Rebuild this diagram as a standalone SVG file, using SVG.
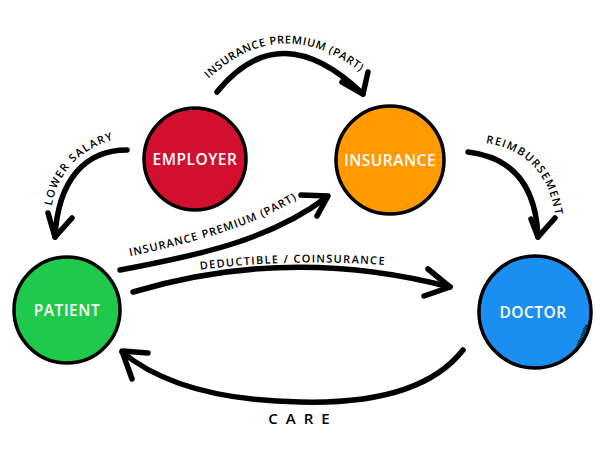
<svg xmlns="http://www.w3.org/2000/svg" width="600" height="455" viewBox="0 0 600 455">
<style>
.node{stroke:#000;stroke-width:3.5}
.nl{font-family:"Open Sans",sans-serif;font-weight:600;font-size:15.5px;fill:#fff;text-anchor:middle;letter-spacing:0.5px}
.c{fill:none;stroke:#000;stroke-width:5.5;stroke-linecap:round;stroke-linejoin:round}
.lb{font-family:"Open Sans",sans-serif;font-weight:600;font-size:11px;fill:#000;letter-spacing:1.3px}
</style>
<defs>
<path id="tp1" d="M194,94 Q280,-4 380,88"/>
<path id="tp2" d="M50,222 C52,170 85,143 130,136"/>
<path id="tp3" d="M474,142 Q550,146 557,228"/>
<path id="tp4" d="M122,258 C198,242 262,224 304,194"/>
<path id="tp5" d="M190,271 Q292,257 396,266"/>
</defs>
<rect width="600" height="455" fill="#fff"/>
<g id="connectors">
<g id="e1">
<path class="c" d="M217,92 Q280,14 363,94"/>
<path class="c" d="M342,82 L363,94 L368,72"/>
<text class="lb" style="letter-spacing:0.6px"><textPath href="#tp1" startOffset="49%" text-anchor="middle">INSURANCE PREMIUM (PART)</textPath></text>
</g>
<g id="e2">
<path class="c" d="M127,150 C85,150 58,180 55,237"/>
<path class="c" d="M48,213 L55,237 L72,218"/>
<text class="lb"><textPath href="#tp2" startOffset="50%" text-anchor="middle">LOWER SALARY</textPath></text>
</g>
<g id="e3">
<path class="c" d="M468,152 Q535,160 538,237"/>
<path class="c" d="M531,219 L538,237 L555,218"/>
<text class="lb"><textPath href="#tp3" startOffset="50%" text-anchor="middle">REIMBURSEMENT</textPath></text>
</g>
<g id="e4">
<path class="c" d="M120,270 C200,255 270,240 327,197"/>
<path class="c" d="M301,195 L328,196 L317,216"/>
<text class="lb" style="letter-spacing:1px"><textPath href="#tp4" startOffset="50%" text-anchor="middle">INSURANCE PREMIUM (PART)</textPath></text>
</g>
<g id="e5">
<path class="c" d="M133,292 Q290,245 450,287"/>
<path class="c" d="M428,269 L450,287 L424,296"/>
<text class="lb"><textPath href="#tp5" startOffset="50%" text-anchor="middle">DEDUCTIBLE / COINSURANCE</textPath></text>
</g>
<g id="e6">
<path class="c" d="M463,350 Q420,405 300,402 Q180,400 122,352"/>
<path class="c" d="M148,353 L122,351 L132,379"/>
<text x="303" y="424" text-anchor="middle" style="font-family:'Open Sans',sans-serif;font-size:15px;letter-spacing:8px;font-weight:600">CARE</text>
</g>
</g>
<g id="employer">
<circle class="node" cx="195" cy="159" r="51" fill="#d30f30"/>
<text class="nl" x="195" y="165">EMPLOYER</text>
</g>
<g id="insurance">
<circle class="node" cx="390" cy="160" r="54" fill="#ff9a00"/>
<text class="nl" x="390" y="166">INSURANCE</text>
</g>
<g id="patient">
<circle class="node" cx="67" cy="310" r="53" fill="#1ec94b"/>
<text class="nl" x="67" y="316">PATIENT</text>
</g>
<g id="doctor">
<circle class="node" cx="535" cy="312" r="56" fill="#1a8ff0"/>
<text class="nl" x="533" y="318">DOCTOR</text>
</g>
<text x="0" y="0" transform="translate(577,353) rotate(-68)" style="font-family:'Open Sans',sans-serif;font-size:5px;font-weight:700">waitbutwhy</text>
</svg>
